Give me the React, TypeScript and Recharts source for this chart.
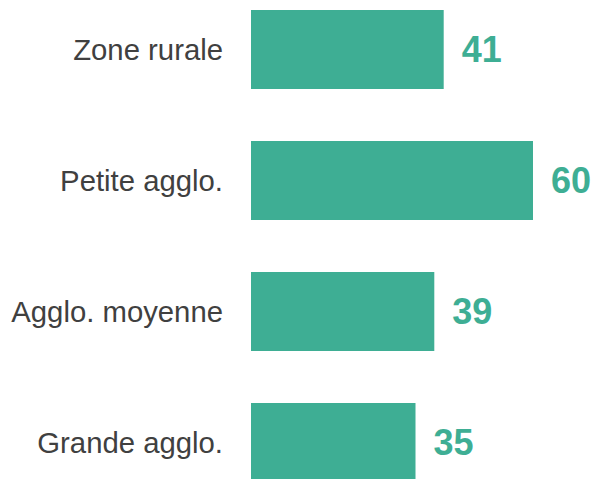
import React from "react";
import { BarChart, Bar, XAxis, YAxis, LabelList } from "recharts";

const categories = ["Zone rurale", "Petite agglo.", "Agglo. moyenne", "Grande agglo."];
const values = [41, 60, 39, 35];

const data = categories.map((name, i) => ({ name, value: values[i] }));

const TEAL = "#3EAE94";
const FONT = "Arial, 'Liberation Sans', sans-serif";

export default function App() {
  return (
    <div
      style={{
        position: "absolute",
        left: 0,
        top: 0,
        width: 597,
        height: 479,
        overflow: "hidden",
        background: "#fff",
      }}
    >
      <div style={{ position: "relative", top: -16 }}>
        <BarChart
          width={597}
          height={524}
          data={data}
          layout="vertical"
          margin={{ top: 0, right: 17, bottom: 0, left: 0 }}
          barSize={79}
          style={{ fontFamily: FONT }}
        >
          <XAxis type="number" domain={[0, 70]} hide />
          <YAxis
            type="category"
            dataKey="name"
            width={251}
            axisLine={false}
            tickLine={false}
            tickSize={0}
            tickMargin={28}
            tick={{ fontSize: 29.3, fill: "#404040", fontFamily: FONT }}
          />
          <Bar dataKey="value" fill={TEAL} isAnimationActive={false}>
            <LabelList
              dataKey="value"
              position="right"
              offset={18}
              fill={TEAL}
              style={{ fontSize: 36, fontWeight: "bold", fontFamily: FONT }}
            />
          </Bar>
        </BarChart>
      </div>
    </div>
  );
}
